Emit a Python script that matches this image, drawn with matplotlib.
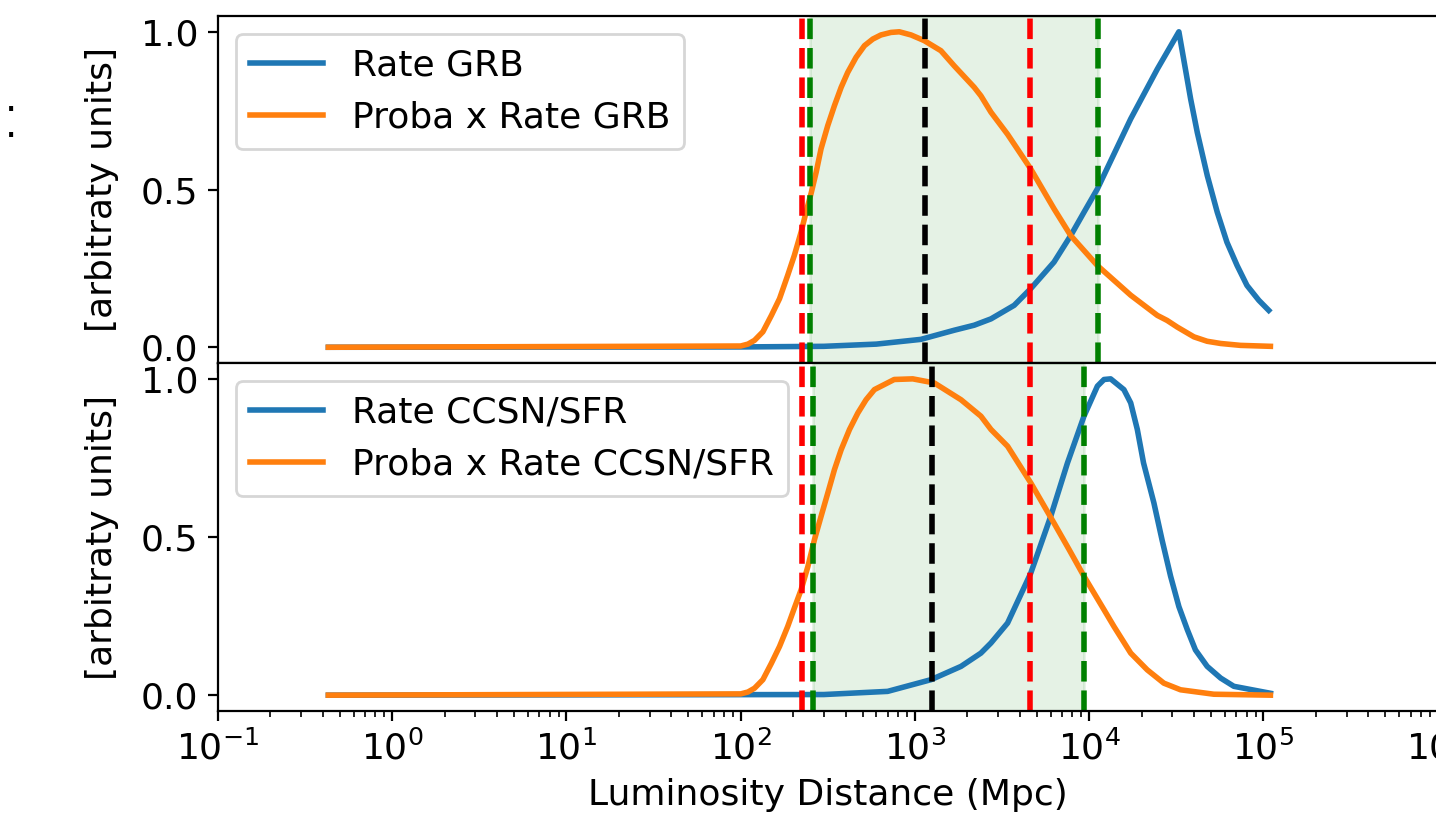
import matplotlib.pyplot as plt

# luminosity distance (Mpc) and normalised curves
d_rate_grb = [0.43, 100, 300, 600, 1080, 1680, 2190, 2730, 3710, 4620, 6280,
              7830, 9330, 11140, 17300, 24600, 32700, 38200, 41700, 47600,
              54300, 61700, 70600, 80400, 94000, 107200]
rate_grb = [0.0, 0.001, 0.003, 0.01, 0.025, 0.054, 0.07, 0.09, 0.133, 0.186,
            0.27, 0.354, 0.428, 0.502, 0.724, 0.882, 1.0, 0.787, 0.681, 0.544,
            0.428, 0.333, 0.259, 0.196, 0.149, 0.117]

d_proba_grb = [0.43, 100, 110, 120, 134, 150, 167, 186, 203, 222, 237, 254,
               271, 289, 316, 345, 377, 411, 459, 513, 573, 638, 728, 813, 949,
               1130, 1409, 1680, 2188, 2390, 2730, 3400, 4620, 6280, 7830,
               11140, 17300, 24600, 28000, 32000, 39900, 47500, 56800, 73800,
               109600]
proba_grb = [0.0, 0.004, 0.01, 0.022, 0.049, 0.101, 0.154, 0.228, 0.291, 0.365,
             0.428, 0.49, 0.555, 0.629, 0.703, 0.766, 0.824, 0.871, 0.919,
             0.956, 0.977, 0.99, 0.998, 1.0, 0.99, 0.972, 0.94, 0.892, 0.824,
             0.797, 0.745, 0.675, 0.565, 0.439, 0.354, 0.259, 0.165, 0.101,
             0.085, 0.064, 0.033, 0.019, 0.012, 0.006, 0.003]

d_rate_sfr = [0.43, 300, 697, 1236, 1837, 2390, 2730, 3400, 4620, 6010, 7500,
              9330, 11140, 12160, 13270, 15810, 17300, 18880, 20500, 23500,
              26200, 29310, 32700, 36560, 40700, 47530, 56800, 67610, 109600]
rate_sfr = [0.0, 0.002, 0.012, 0.049, 0.091, 0.133, 0.165, 0.228, 0.386, 0.565,
            0.734, 0.882, 0.977, 0.998, 1.0, 0.966, 0.924, 0.84, 0.734, 0.608,
            0.49, 0.376, 0.28, 0.207, 0.143, 0.091, 0.054, 0.028, 0.006]

d_proba_sfr = [0.43, 100, 110, 120, 134, 150, 167, 186, 203, 222, 243, 265,
               289, 316, 345, 377, 421, 470, 524, 585, 760, 971, 1291, 1837,
               2390, 2730, 3400, 4620, 6280, 7670, 9330, 12160, 13870, 17300,
               21530, 26800, 33420, 51880, 109600]
proba_sfr = [0.0, 0.004, 0.01, 0.022, 0.049, 0.101, 0.154, 0.217, 0.275, 0.333,
             0.407, 0.492, 0.565, 0.639, 0.713, 0.776, 0.84, 0.892, 0.934,
             0.966, 0.998, 1.0, 0.987, 0.934, 0.882, 0.84, 0.787, 0.671, 0.544,
             0.46, 0.376, 0.27, 0.217, 0.133, 0.08, 0.038, 0.017, 0.003, 0.0]

# dashed markers: red / green pairs and black median
red_grb = [225, 4580]
green_grb = [251, 11220]
black_grb = 1141
red_sfr = [225, 4580]
green_sfr = [261, 9333]
black_sfr = 1251

fig = plt.figure(figsize=(7.18, 4.17), dpi=200)
ax1 = fig.add_axes([0.1518, 0.5647, 0.8494, 0.4161])
ax2 = fig.add_axes([0.1518, 0.1475, 0.8494, 0.4172], sharex=ax1)

panels = [
    (ax1, d_rate_grb, rate_grb, d_proba_grb, proba_grb, 'Rate GRB',
     'Proba x Rate GRB', red_grb, green_grb, black_grb),
    (ax2, d_rate_sfr, rate_sfr, d_proba_sfr, proba_sfr, 'Rate CCSN/SFR',
     'Proba x Rate CCSN/SFR', red_sfr, green_sfr, black_sfr),
]
for ax, dr, r, dp, p, lab1, lab2, red, green, black in panels:
    ax.plot(dr, r, color='tab:blue', lw=2, label=lab1)
    ax.plot(dp, p, color='tab:orange', lw=2, label=lab2)
    for xv in red:
        ax.axvline(xv, color='red', ls='--', lw=2)
    for xv in green:
        ax.axvline(xv, color='green', ls='--', lw=2)
    ax.axvline(black, color='black', ls='--', lw=2)
    ax.axvspan(green[0], green[1], color='green', alpha=0.1)
    ax.set_xscale('log')
    ax.set_ylim(-0.05, 1.05)
    ax.set_yticks([0.0, 0.5, 1.0])
    ax.tick_params(labelsize=13)
    ax.set_ylabel('[arbitraty units]', fontsize=13, labelpad=8)
    ax.legend(loc='upper left', fontsize=13)

ax1.set_xlim(0.1, 1e6)
ax1.tick_params(labelbottom=False)
ax2.set_xlabel('Luminosity Distance (Mpc)', fontsize=13)
ax1.spines['right'].set_visible(False)
ax2.spines['right'].set_visible(False)

# remains of a text cut off at the left edge
fig.text(0.008, 0.867, '.', fontsize=14, ha='center', va='baseline')
fig.text(0.008, 0.836, '.', fontsize=14, ha='center', va='baseline')

fig.savefig('out.png', dpi=200)
